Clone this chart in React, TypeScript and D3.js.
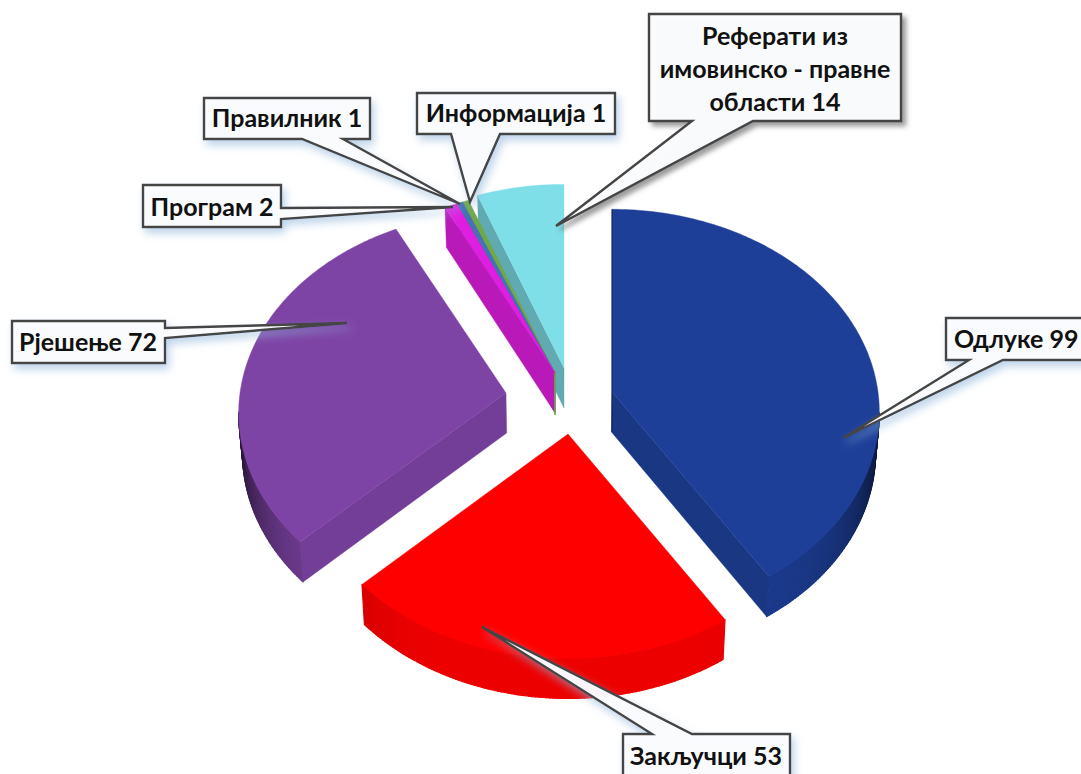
import React from "react";
import * as d3 from "d3";

// ---- data
const sliceNames = ["Одлуке", "Закључци", "Рјешење", "Програм", "Правилник", "Информација", "Реферати из имовинско - правне области"];
const sliceValues = [99, 53, 72, 2, 1, 1, 14];
const sliceColors = ["#1e3f98", "#ff0000", "#7e44a5", "#e01ee0", "#4472b4", "#70a848", "#7fdfe9"];

// ---- layout
const W = 1081, H = 774;
const CX = 563, CY = 404;
const RX = 266, RY = 202, PERSPECTIVE = 0.1, DEPTH = 40, BOTTOM_SHRINK = 0.988;
// how far each slice is pulled out of the pie (px on screen), and its near-camera stretch
const explodeX = [49, 5, -57, -8, -8, -8, 1];
const explodeY = [-12, 30, -11, -31, -31, -31, -36];
const stretchY = [0.995, 1.0, 0.99, 1, 1, 1, 1];
const paintOrder = [6, 5, 4, 3, 2, 0, 1];

type Callout = {
  idx: number; box: [number, number, number, number];
  side: "bottom" | "right" | "top"; base: [number, number]; tip: [number, number];
  lines: string[]; tx: number; ty: number; anchor: string; shadow: string;
};
const callouts: Callout[] = [
  { idx: 6, box: [649, 14, 901, 121], side: "bottom", base: [692, 753], tip: [556, 226], lines: ["Реферати из", "имовинско - правне", "области 14"], tx: 775, ty: 45, anchor: "middle", shadow: "sg" },
  { idx: 5, box: [417, 93, 615, 134], side: "bottom", base: [451, 500], tip: [470, 202], lines: ["Информација 1"], tx: 516, ty: 122, anchor: "middle", shadow: "sb" },
  { idx: 4, box: [204, 98, 370, 139], side: "bottom", base: [302, 343], tip: [460, 204], lines: ["Правилник 1"], tx: 287, ty: 127, anchor: "middle", shadow: "sb" },
  { idx: 3, box: [143, 185, 281, 227], side: "right", base: [208, 219], tip: [453, 207], lines: ["Програм 2"], tx: 212, ty: 216, anchor: "middle", shadow: "sb" },
  { idx: 2, box: [12, 321, 165, 363], side: "right", base: [328, 338], tip: [347, 323], lines: ["Рјешење 72"], tx: 88, ty: 351, anchor: "middle", shadow: "sb" },
  { idx: 0, box: [946, 318, 1100, 360], side: "bottom", base: [969, 1003], tip: [843, 438], lines: ["Одлуке 99"], tx: 954, ty: 348, anchor: "start", shadow: "sb" },
  { idx: 1, box: [623, 734, 790, 790], side: "top", base: [652, 692], tip: [482, 627], lines: ["Закључци 53"], tx: 706, ty: 765, anchor: "middle", shadow: "sb" },
];

const pieAngles = d3.pie<number>().sort(null).startAngle(0).endAngle(2 * Math.PI)(sliceValues);
const xScale = d3.scaleLinear().domain([-1, 1]).range([-RX, RX]);
const yScale = d3.scaleLinear().domain([-1, 1]).range([-RY, RY]);
const pathOf = d3.line<[number, number]>().x(d => d[0]).y(d => d[1]);

function project(i: number, a: number): [number, number] {
  const u = Math.sin(a), v = -Math.cos(a), s = 1 / (1 - PERSPECTIVE * v);
  return [CX + explodeX[i] + xScale(u) * s, CY + explodeY[i] + yScale(v) * s * stretchY[i]];
}
function bottomOf(p: [number, number]): [number, number] {
  return [CX + (p[0] - CX) * BOTTOM_SHRINK, p[1] + DEPTH];
}
function shade(color: string, f: number): string {
  const c = d3.rgb(color);
  return d3.rgb(c.r * f, c.g * f, c.b * f).formatHex();
}

function Slice({ i }: { i: number }) {
  const d = pieAngles[i];
  const n = Math.max(2, Math.ceil((d.endAngle - d.startAngle) / 0.012));
  const arcAngles = d3.range(n + 1).map(k => d.startAngle + ((d.endAngle - d.startAngle) * k) / n);
  const arcPts = arcAngles.map(a => project(i, a));
  const apex: [number, number] = [CX + explodeX[i], CY + explodeY[i]];
  const outline: [number, number][] = [apex, ...arcPts];
  const color = sliceColors[i];
  const quads: React.ReactNode[] = [];
  const addQuad = (a: [number, number], b: [number, number], fill: string, key: string, sw = 1.2) => {
    if (b[0] - a[0] >= 0) return; // faces away from the viewer
    const q = pathOf([a, b, bottomOf(b), bottomOf(a)]) + "Z";
    quads.push(<path key={key} d={q} fill={fill} stroke={fill} strokeWidth={sw} strokeLinejoin="round" />);
  };
  const radialShade = (a: [number, number], b: [number, number]) => {
    const dx = b[0] - a[0], dy = b[1] - a[1];
    const nx = Math.abs(dy) / Math.hypot(dx, dy);
    return 0.93 - 0.33 * Math.pow(nx, 6);
  };
  for (let k = 0; k < n; k++) {
    const mid = (arcAngles[k] + arcAngles[k + 1]) / 2;
    const t = Math.pow(Math.abs(Math.sin(mid)), 6);
    addQuad(arcPts[k], arcPts[k + 1], shade(color, 0.93 - 0.6 * t), "a" + k);
  }
  addQuad(apex, arcPts[0], shade(color, radialShade(apex, arcPts[0])), "r0", 0.4);
  addQuad(arcPts[n], apex, shade(color, radialShade(arcPts[n], apex)), "r1", 0.4);
  return (
    <g>
      {quads}
      <path d={pathOf(outline) + "Z"} fill={color} stroke={color} strokeWidth={0.4} />
    </g>
  );
}

function calloutPath(c: Callout): string {
  const [x0, y0, x1, y1] = c.box;
  const [b0, b1] = c.base;
  let pts: [number, number][];
  if (c.side === "bottom") pts = [[x0, y0], [x1, y0], [x1, y1], [b1, y1], c.tip, [b0, y1], [x0, y1]];
  else if (c.side === "right") pts = [[x0, y0], [x1, y0], [x1, b0], c.tip, [x1, b1], [x1, y1], [x0, y1]];
  else pts = [[x0, y0], [b0, y0], c.tip, [b1, y0], [x1, y0], [x1, y1], [x0, y1]];
  return pathOf(pts) + "Z";
}

export default function App() {
  const blue = 0, green = 5;
  const blueTop = project(blue, pieAngles[blue].startAngle);
  const greenApex: [number, number] = [CX + explodeX[green], CY + explodeY[green]];
  return (
    <svg width={W} height={H} viewBox={`0 0 ${W} ${H}`} style={{ position: "absolute", left: 0, top: 0, background: "#fff" }}>
      <defs>
        <filter id="sb" x="-30%" y="-30%" width="170%" height="170%">
          <feDropShadow dx="3" dy="5" stdDeviation="4" floodColor="#8fb6dc" floodOpacity="0.6" />
        </filter>
        <filter id="sg" x="-30%" y="-30%" width="170%" height="170%">
          <feDropShadow dx="4" dy="4" stdDeviation="2.5" floodColor="#555" floodOpacity="0.6" />
        </filter>
      </defs>
      {paintOrder.map(i => <Slice key={i} i={i} />)}
      <path d={pathOf([greenApex, [greenApex[0], greenApex[1] + DEPTH + 2]])!} stroke={sliceColors[green]} strokeWidth={1.6} fill="none" />
      <path d={pathOf([blueTop, [CX + explodeX[blue], CY + explodeY[blue] + DEPTH]])!} stroke="#141d4c" strokeWidth={1} fill="none" />
      {callouts.map(c => (
        <g key={c.idx}>
          <path d={calloutPath(c)} fill="#fbfcfe" fillOpacity={0.97} stroke="#444" strokeWidth={2.4} strokeLinejoin="miter" strokeMiterlimit={4} filter={`url(#${c.shadow})`} />
          {c.lines.map((l, j) => (
            <text key={j} x={c.tx} y={c.ty + j * 33} textAnchor={c.anchor as any} fontFamily="Lato, 'Open Sans', 'Noto Sans', sans-serif" fontWeight={700} fontSize={25} fill="#111">{l}</text>
          ))}
        </g>
      ))}
    </svg>
  );
}
